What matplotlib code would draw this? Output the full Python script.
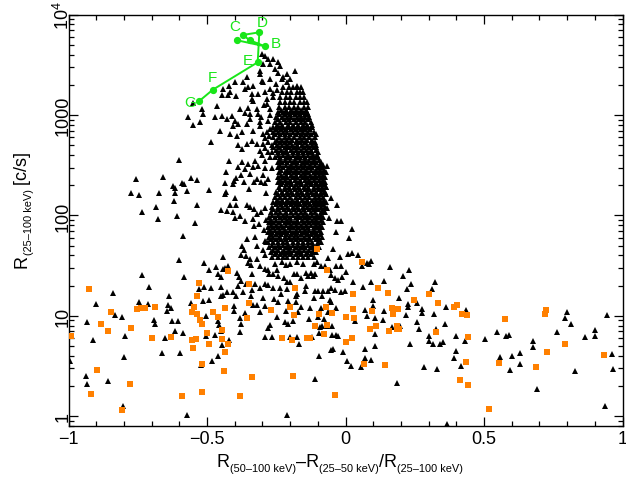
import matplotlib
matplotlib.use('Agg')
import matplotlib.pyplot as plt
from matplotlib.ticker import FixedLocator, MultipleLocator, LogLocator, NullFormatter

plt.rcParams['font.family'] = ['Liberation Sans', 'DejaVu Sans']
plt.rcParams['mathtext.fontset'] = 'custom'
plt.rcParams['mathtext.rm'] = 'Liberation Sans'
plt.rcParams['mathtext.it'] = 'Liberation Sans:italic'
plt.rcParams['mathtext.bf'] = 'Liberation Sans:bold'

# ---------------- data ----------------
# dense core of black triangles: one list of x per count level
core_y = [1905, 1698, 1514, 1349, 1204, 1073, 957, 853, 760, 678, 605, 539, 481, 429,
          383, 341, 304, 271, 242, 216, 192, 171, 153, 136, 122, 108, 96.6, 86.1, 76.8,
          68.5, 61.1, 54.5, 48.6, 43.3, 38.6]
core_x = [
    [-0.225, -0.205, -0.19, -0.175, -0.16],
    [-0.23, -0.21, -0.195, -0.175, -0.155],
    [-0.235, -0.215, -0.2, -0.18, -0.165, -0.15],
    [-0.235, -0.22, -0.2, -0.185, -0.165, -0.15, -0.14],
    [-0.24, -0.22, -0.205, -0.185, -0.17, -0.15, -0.135],
    [-0.245, -0.225, -0.21, -0.19, -0.17, -0.155, -0.14],
    [-0.25, -0.23, -0.21, -0.195, -0.175, -0.16, -0.145, -0.13],
    [-0.255, -0.235, -0.215, -0.2, -0.18, -0.16, -0.145, -0.125],
    [-0.26, -0.24, -0.225, -0.205, -0.185, -0.17, -0.15, -0.135, -0.12],
    [-0.26, -0.245, -0.225, -0.21, -0.19, -0.17, -0.155, -0.135, -0.115],
    [-0.26, -0.24, -0.22, -0.205, -0.185, -0.165, -0.15, -0.13, -0.11],
    [-0.255, -0.235, -0.22, -0.2, -0.18, -0.165, -0.145, -0.125, -0.11],
    [-0.26, -0.24, -0.22, -0.205, -0.185, -0.17, -0.15, -0.13, -0.115, -0.105],
    [-0.265, -0.245, -0.225, -0.21, -0.19, -0.17, -0.155, -0.135, -0.12, -0.1],
    [-0.255, -0.235, -0.215, -0.2, -0.18, -0.165, -0.145, -0.125, -0.11, -0.1],
    [-0.245, -0.23, -0.21, -0.19, -0.175, -0.155, -0.14, -0.12, -0.105, -0.09],
    [-0.245, -0.225, -0.205, -0.19, -0.17, -0.155, -0.135, -0.12, -0.1, -0.085],
    [-0.24, -0.22, -0.205, -0.185, -0.17, -0.15, -0.135, -0.115, -0.1, -0.085, -0.075],
    [-0.245, -0.225, -0.21, -0.19, -0.175, -0.155, -0.14, -0.12, -0.105, -0.09, -0.075],
    [-0.245, -0.23, -0.21, -0.195, -0.175, -0.16, -0.14, -0.125, -0.105, -0.09, -0.075],
    [-0.24, -0.22, -0.205, -0.185, -0.17, -0.15, -0.135, -0.115, -0.1, -0.085, -0.07],
    [-0.25, -0.23, -0.21, -0.195, -0.175, -0.16, -0.14, -0.125, -0.105, -0.09, -0.075],
    [-0.255, -0.235, -0.22, -0.2, -0.18, -0.165, -0.145, -0.13, -0.11, -0.095, -0.08],
    [-0.26, -0.24, -0.225, -0.205, -0.185, -0.17, -0.15, -0.135, -0.115, -0.1, -0.085, -0.07],
    [-0.265, -0.245, -0.23, -0.21, -0.19, -0.175, -0.155, -0.14, -0.12, -0.105, -0.09, -0.075],
    [-0.27, -0.25, -0.235, -0.215, -0.195, -0.18, -0.16, -0.145, -0.125, -0.11, -0.09, -0.075],
    [-0.275, -0.255, -0.235, -0.22, -0.2, -0.18, -0.165, -0.145, -0.13, -0.11, -0.095, -0.08],
    [-0.275, -0.26, -0.24, -0.22, -0.205, -0.185, -0.17, -0.15, -0.13, -0.115, -0.1, -0.08],
    [-0.28, -0.26, -0.245, -0.225, -0.205, -0.19, -0.17, -0.155, -0.135, -0.115, -0.1, -0.085],
    [-0.28, -0.265, -0.245, -0.225, -0.21, -0.19, -0.175, -0.155, -0.14, -0.12, -0.105, -0.09],
    [-0.275, -0.26, -0.24, -0.22, -0.205, -0.185, -0.17, -0.15, -0.13, -0.115, -0.1, -0.085],
    [-0.28, -0.26, -0.245, -0.225, -0.21, -0.19, -0.17, -0.155, -0.135, -0.12, -0.1, -0.09],
    [-0.275, -0.255, -0.235, -0.215, -0.2, -0.18, -0.16, -0.145, -0.125, -0.11, -0.095],
    [-0.27, -0.25, -0.23, -0.21, -0.195, -0.175, -0.16, -0.14, -0.12, -0.105],
    [-0.265, -0.245, -0.225, -0.21, -0.19, -0.17, -0.155, -0.135, -0.115],
]

# in-between levels of the dense core
core2_y = [1137, 1014, 904, 806, 719, 641, 571, 509, 454, 405, 361, 322, 287, 256, 228,
           204, 182, 162, 144, 129, 115, 102, 91.2, 81.3, 72.5, 64.7, 57.7, 51.4, 45.8, 40.9]
core2_x = [
    [-0.232, -0.213, -0.195, -0.178, -0.16, -0.143],
    [-0.24, -0.22, -0.2, -0.183, -0.165, -0.148, -0.136],
    [-0.243, -0.222, -0.203, -0.185, -0.168, -0.152, -0.137],
    [-0.248, -0.228, -0.208, -0.19, -0.173, -0.155, -0.138, -0.122],
    [-0.252, -0.233, -0.215, -0.198, -0.18, -0.162, -0.145, -0.127],
    [-0.253, -0.235, -0.217, -0.2, -0.18, -0.16, -0.142, -0.125, -0.108],
    [-0.248, -0.228, -0.21, -0.192, -0.175, -0.157, -0.138, -0.12],
    [-0.265, -0.248, -0.23, -0.21, -0.192, -0.175, -0.157, -0.14, -0.122, -0.108],
    [-0.25, -0.232, -0.213, -0.195, -0.177, -0.16, -0.142, -0.125, -0.108],
    [-0.245, -0.225, -0.207, -0.19, -0.172, -0.155, -0.137, -0.118, -0.104],
    [-0.237, -0.218, -0.2, -0.182, -0.165, -0.147, -0.13, -0.112, -0.097],
    [-0.235, -0.215, -0.197, -0.18, -0.162, -0.145, -0.127, -0.11, -0.093, -0.08],
    [-0.232, -0.212, -0.195, -0.177, -0.16, -0.142, -0.123, -0.107, -0.092, -0.078],
    [-0.233, -0.215, -0.197, -0.18, -0.162, -0.145, -0.128, -0.11, -0.097, -0.082],
    [-0.235, -0.217, -0.2, -0.182, -0.165, -0.147, -0.13, -0.113, -0.097, -0.082],
    [-0.232, -0.213, -0.195, -0.178, -0.16, -0.143, -0.125, -0.108, -0.092, -0.078],
    [-0.235, -0.218, -0.2, -0.183, -0.165, -0.148, -0.13, -0.112, -0.095, -0.08],
    [-0.243, -0.225, -0.207, -0.19, -0.172, -0.155, -0.137, -0.118, -0.102, -0.087, -0.072],
    [-0.247, -0.228, -0.21, -0.193, -0.175, -0.158, -0.14, -0.122, -0.107, -0.092, -0.077],
    [-0.252, -0.233, -0.215, -0.198, -0.18, -0.163, -0.145, -0.127, -0.11, -0.095, -0.08],
    [-0.26, -0.242, -0.222, -0.203, -0.185, -0.168, -0.15, -0.132, -0.115, -0.098, -0.082],
    [-0.265, -0.245, -0.227, -0.21, -0.19, -0.172, -0.155, -0.138, -0.12, -0.102, -0.087],
    [-0.268, -0.25, -0.23, -0.212, -0.195, -0.175, -0.158, -0.14, -0.122, -0.105, -0.09],
    [-0.268, -0.25, -0.232, -0.213, -0.195, -0.178, -0.16, -0.142, -0.125, -0.107, -0.092],
    [-0.272, -0.255, -0.235, -0.217, -0.2, -0.18, -0.163, -0.147, -0.13, -0.112, -0.097],
    [-0.27, -0.25, -0.232, -0.213, -0.195, -0.178, -0.16, -0.14, -0.123, -0.107, -0.092],
    [-0.268, -0.25, -0.232, -0.213, -0.197, -0.18, -0.162, -0.143, -0.127, -0.108, -0.095],
    [-0.265, -0.245, -0.227, -0.208, -0.19, -0.172, -0.153, -0.137, -0.118, -0.103],
    [-0.26, -0.242, -0.222, -0.203, -0.185, -0.168, -0.15, -0.13, -0.113],
    [-0.255, -0.235, -0.218, -0.2, -0.18, -0.162, -0.143, -0.125],
]

tri_upper = [(-0.303, 4070), (-0.291, 3910), (-0.279, 3630), (-0.263, 3630), (-0.273, 3230),
             (-0.297, 3230), (-0.243, 3360), (-0.236, 3100), (-0.309, 2780), (-0.255, 2880),
             (-0.182, 2720), (-0.212, 2570), (-0.309, 2570), (-0.357, 2380), (-0.225, 2380),
             (-0.230, 2290), (-0.200, 2290), (-0.273, 2290), (-0.303, 2210), (-0.212, 2130),
             (-0.297, 2130), (-0.369, 2130), (-0.399, 2130), (-0.251, 2040), (-0.176, 1970),
             (-0.333, 1970), (-0.419, 1970), (-0.351, 1900), (-0.363, 1820), (-0.441, 1820),
             (-0.273, 1820), (-0.164, 1700), (-0.291, 1700), (-0.417, 1700), (-0.316, 1625),
             (-0.339, 1625), (-0.447, 1570), (-0.423, 1570), (-0.395, 1540), (-0.262, 1650),
             (-0.248, 1780), (-0.245, 2600)]

tri_branch = [(-0.549, 1320), (-0.519, 1152), (-0.513, 1027), (-0.568, 952), (-0.525, 850),
              (-0.552, 798), (-0.487, 545), (-0.465, 1230), (-0.447, 985), (-0.471, 965),
              (-0.429, 915), (-0.411, 985), (-0.399, 880), (-0.387, 816), (-0.405, 780),
              (-0.381, 1152), (-0.363, 1060), (-0.351, 1190), (-0.333, 1390), (-0.321, 1152),
              (-0.315, 1027), (-0.345, 915), (-0.357, 816), (-0.333, 700), (-0.309, 780),
              (-0.297, 649), (-0.375, 680), (-0.417, 649), (-0.453, 700), (-0.393, 620),
              (-0.387, 500), (-0.375, 460), (-0.357, 516), (-0.339, 550), (-0.321, 516),
              (-0.309, 440), (-0.291, 475), (-0.279, 540), (-0.297, 516), (-0.345, 1027),
              (-0.339, 1450), (-0.285, 1450), (-0.261, 1510), (-0.273, 1152), (-0.309, 850),
              (-0.285, 680), (-0.266, 300), (-0.279, 231), (-0.285, 1300), (-0.272, 1000),
              (-0.28, 880), (-0.272, 720), (-0.29, 590), (-0.276, 620), (-0.28, 430),
              (-0.3, 400), (-0.272, 380), (-0.296, 1250), (-0.304, 960)]

tri_mid = [(-0.600, 360), (-0.757, 233), (-0.660, 240), (-0.622, 195), (-0.617, 189),
           (-0.590, 213), (-0.584, 206), (-0.557, 236), (-0.537, 227), (-0.774, 166),
           (-0.745, 159), (-0.673, 168), (-0.617, 167), (-0.573, 175), (-0.493, 179),
           (-0.619, 138), (-0.735, 109), (-0.683, 121), (-0.535, 126), (-0.678, 92.3),
           (-0.607, 99.6), (-0.544, 85), (-0.587, 62.8), (-0.602, 36.3), (-0.735, 25.8),
           (-0.583, 24.6), (-0.710, 19.5), (-0.838, 17.1), (-0.637, 15.9), (-0.512, 33.4),
           (-0.494, 28.7), (-0.466, 31), (-0.443, 38.9), (-0.442, 29.3), (-0.436, 30),
           (-0.423, 31.6), (-0.460, 26.1), (-0.448, 24.6), (-0.451, 19.5), (-0.487, 19.1),
           (-0.530, 18.5), (-0.441, 16.0), (-0.429, 17.2), (-0.393, 26.5), (-0.386, 24.2),
           (-0.376, 22.3), (-0.387, 20.0), (-0.369, 17.2), (-0.396, 15.9), (-0.342, 15.9),
           (-0.328, 20.7), (-0.310, 18.9), (-0.290, 20.7), (-0.336, 26.0), (-0.352, 33.4),
           (-0.342, 32.1), (-0.308, 31.6), (-0.292, 29.3), (-0.376, 40.0), (-0.360, 39.6),
           (-0.344, 37.2), (-0.374, 49.2), (-0.365, 45.5), (-0.321, 49.2), (-0.297, 45.5),
           (-0.286, 54.0), (-0.292, 40.0), (-0.355, 58.4), (-0.327, 61.6), (-0.330, 78.3),
           (-0.295, 71.9), (-0.292, 56.0), (-0.334, 92.3), (-0.313, 82.3), (-0.286, 90.3),
           (-0.364, 88.9), (-0.400, 94), (-0.380, 99.1), (-0.448, 114), (-0.429, 110),
           (-0.406, 109), (-0.416, 126), (-0.396, 126), (-0.356, 126), (-0.345, 121),
           (-0.331, 116), (-0.321, 103.5), (-0.304, 108), (-0.292, 118), (-0.430, 173),
           (-0.436, 163), (-0.398, 148), (-0.366, 217), (-0.347, 184), (-0.329, 217),
           (-0.318, 231), (-0.306, 217), (-0.290, 209), (-0.286, 166), (-0.435, 209),
           (-0.405, 204), (-0.404, 223), (-0.394, 236), (-0.376, 256), (-0.362, 288),
           (-0.346, 262), (-0.333, 303), (-0.316, 311), (-0.290, 296), (-0.298, 256),
           (-0.430, 270), (-0.421, 350), (-0.388, 307), (-0.374, 339), (-0.352, 326),
           (-0.328, 350), (-0.292, 350)]

tri_low = [(-0.321, 36.9), (-0.281, 28.5), (-0.277, 26.0), (-0.263, 26.0), (-0.256, 33.0),
           (-0.246, 28.5), (-0.230, 34.2), (-0.214, 32.1), (-0.199, 32.6), (-0.176, 34.2),
           (-0.153, 32.6), (-0.144, 26.6), (-0.126, 26.6), (-0.115, 32.6), (-0.104, 34.2),
           (-0.087, 31.2), (-0.073, 31.6), (-0.055, 28.5), (-0.051, 25.6), (-0.033, 31.2),
           (-0.015, 31.2), (0.003, 27.2), (-0.245, 24.8), (-0.223, 23.7), (-0.212, 21.9),
           (-0.201, 21.6), (-0.187, 26.0), (-0.176, 26.0), (-0.160, 23.7), (-0.135, 24.8),
           (-0.117, 24.8), (-0.111, 26.0), (-0.037, 23.7), (-0.026, 22.9), (-0.012, 24.4),
           (-0.510, 19.3), (-0.405, 17.2), (-0.360, 21.0), (-0.339, 18.0), (-0.280, 20.3),
           (-0.263, 18.8), (-0.235, 18.8), (-0.211, 18.4), (-0.174, 16.7), (-0.147, 17.5),
           (-0.142, 20.0), (-0.111, 17.8), (-0.100, 17.8), (-0.082, 17.8), (-0.064, 17.8),
           (-0.053, 18.9), (-0.037, 18.0), (-0.015, 17.2), (-0.001, 17.7), (-0.179, 15.9),
           (-0.232, 16.7), (-0.297, 15.2), (-0.259, 14.7), (-0.243, 13.9), (-0.208, 14.2),
           (-0.179, 13.7), (-0.113, 15.2), (-0.057, 14.3), (-0.052, 13.7), (-0.085, 15.9),
           (-0.900, 13.1), (-0.747, 13.7), (-0.714, 13.1), (-0.641, 12.8), (-0.631, 11.9),
           (-0.557, 13.3), (-0.513, 14.1), (-0.492, 14.5), (-0.448, 15.9), (-0.403, 12.6),
           (-0.401, 11.1), (-0.364, 10.7), (-0.333, 12.9), (-0.318, 12.9), (-0.290, 12.6),
           (-0.246, 9.7), (-0.208, 8.4), (-0.188, 8.8), (-0.171, 10.9), (-0.133, 9.3),
           (-0.129, 11.9), (-0.078, 9.3), (-0.033, 11.9), (-0.643, 11.1), (-0.690, 9.2),
           (-0.688, 8.4), (-0.807, 9.8), (-0.833, 10.2), (-0.933, 8.6), (-0.627, 8.9),
           (-0.604, 8.9), (-0.503, 9.9), (-0.459, 8.8), (-0.457, 8.2), (-0.380, 9.5),
           (-0.378, 8.4), (-0.279, 7.5), (-0.271, 8.1), (-0.218, 8.6), (-0.098, 9.8),
           (-0.092, 7.7), (-0.084, 7.9), (-0.067, 8.0), (-0.049, 8.0), (-0.160, 12.4),
           (-0.216, 11.3), (-0.310, 10.9), (-0.063, 10.9), (-0.087, 12.1),
           (-0.616, 7.0), (-0.588, 6.7), (-0.503, 6.3), (-0.472, 6.5), (-0.449, 7.0),
           (-0.380, 6.9), (-0.420, 5.75), (-0.446, 5.1), (-0.291, 6.2), (-0.265, 6.2),
           (-0.199, 6.1), (-0.174, 6.1), (-0.167, 5.2), (-0.120, 6.2), (-0.095, 6.7),
           (-0.048, 6.45), (-0.035, 6.4), (-0.027, 6.3), (-0.795, 6.3), (-0.652, 6.0),
           (-0.913, 5.7), (-0.664, 4.27), (-0.599, 4.24), (-0.459, 4.0), (-0.481, 3.53),
           (-0.522, 3.22), (-0.800, 3.92), (-0.097, 3.96), (-0.051, 4.54), (-0.044, 4.65),
           (-0.009, 4.39), (0.006, 3.58), (-0.996, 3.53), (-0.936, 2.5), (-0.932, 2.08),
           (-0.857, 2.25), (-0.111, 2.37), (-0.802, 1.26), (-0.572, 1.03), (-0.212, 1.03)]

tri_right = [(-0.032, 127), (-0.017, 88), (-0.032, 88), (-0.034, 69), (-0.061, 95),
             (-0.080, 112), (-0.066, 118), (-0.052, 151), (-0.078, 170), (-0.070, 191),
             (-0.070, 269), (-0.068, 311), (-0.044, 46.4), (-0.020, 39), (-0.062, 37.6),
             (0.022, 73.4), (0.014, 60), (0.010, 41), (0.025, 42.4), (0.046, 40.4),
             (0.061, 31.5), (0.079, 33.6), (0.085, 33), (0.093, 35), (0.161, 30.8),
             (0.230, 28.5), (0.208, 24.8), (0.223, 18.5), (0.238, 20.8), (0.313, 18.5),
             (0.324, 21.6), (0.138, 22.1), (0.091, 21.8), (0.063, 19.5), (0.028, 21.6),
             (0.100, 14.3), (0.098, 12.6), (0.071, 11.4), (0.079, 9.9), (0.106, 9.5),
             (0.139, 11.2), (0.136, 9.2), (0.192, 15), (0.226, 13.0), (0.227, 12.3),
             (0.259, 13.4), (0.277, 11.7), (0.276, 10.8), (0.219, 10.2), (0.257, 8.6),
             (0.265, 7.35), (0.319, 10.4), (0.358, 8.25), (0.362, 12.3), (0.436, 11.4),
             (0.326, 7.4), (0.300, 6.3), (0.301, 5.6), (0.315, 5.25), (0.341, 5.3),
             (0.351, 5.5), (0.198, 8.0), (0.168, 7.7), (0.106, 6.65), (0.108, 4.98),
             (0.071, 4.65), (0.071, 3.83), (0.092, 3.66), (0.020, 3.19), (0.055, 3.07),
             (0.234, 5.25), (0.399, 6.25), (0.430, 5.6), (0.398, 4.47), (0.392, 3.78),
             (0.418, 3.15), (0.284, 3.12), (0.331, 2.96), (0.187, 2.15), (0.503, 5.9),
             (0.546, 6.85), (0.581, 6.25), (0.590, 6.4), (0.559, 3.92), (0.601, 4.0),
             (0.629, 4.3), (0.594, 2.91), (0.630, 3.32), (0.676, 5.6), (0.678, 4.9),
             (0.691, 1.87), (0.765, 6.95), (0.801, 11.0), (0.794, 9.45), (0.815, 8.3),
             (0.829, 2.84), (0.864, 6.2), (0.900, 7.3), (0.902, 6.25), (0.943, 10.3),
             (0.962, 4.14), (0.965, 2.94), (0.937, 1.27), (0.366, 0.83), (0.034, 8.95)]

sq_left = [(-0.424, 27.8), (-0.925, 18.4), (-0.530, 21.1), (-0.535, 15.7), (-0.348, 20.6),
           (-0.066, 28.5), (-0.182, 18.8), (-0.845, 10.9), (-0.752, 11.6), (-0.737, 11.9),
           (-0.723, 11.9), (-0.687, 12.2), (-0.546, 12.2), (-0.553, 10.9), (-0.535, 10.4),
           (-0.477, 10.9), (-0.434, 11.9), (-0.347, 13.3), (-0.268, 11.4), (-0.199, 12.2),
           (-0.185, 10.1), (-0.095, 10.4), (-0.070, 12.2), (-0.049, 10.6), (0.0, 9.7),
           (-0.882, 8.25), (-0.857, 7.0), (-0.773, 7.5), (-0.992, 6.35), (-0.697, 5.98),
           (-0.629, 6.1), (-0.524, 9.0), (-0.517, 8.4), (-0.459, 9.7), (-0.499, 6.7),
           (-0.445, 7.2), (-0.554, 5.7), (-0.539, 5.85), (-0.492, 5.3), (-0.445, 5.85),
           (-0.423, 5.2), (-0.549, 4.75), (-0.434, 4.34), (-0.355, 9.5), (-0.228, 5.98),
           (-0.192, 5.7), (-0.138, 5.98), (-0.127, 5.98), (-0.110, 7.9), (-0.066, 8.06),
           (-0.077, 6.56), (0.0, 5.46), (-0.517, 3.3), (-0.896, 2.87), (-0.438, 2.81),
           (-0.336, 2.45), (-0.188, 2.5), (-0.777, 2.08), (-0.918, 1.66), (-0.589, 1.58),
           (-0.380, 1.58), (-0.038, 1.62), (-0.806, 1.15), (-0.517, 1.73), (-0.102, 46.4)]

sq_right = [(0.061, 34.2), (0.118, 18.8), (0.155, 16.8), (0.028, 16.4), (0.303, 16.4),
            (0.248, 14.3), (0.333, 13.3), (0.028, 11.6), (0.095, 11.1), (0.032, 9.5),
            (0.169, 11.9), (0.191, 11.6), (0.173, 10.4), (0.393, 12.2), (0.404, 12.8),
            (0.422, 10.4), (0.440, 10.1), (0.111, 7.9), (0.090, 7.35), (0.158, 7.0),
            (0.187, 7.9), (0.187, 7.35), (0.194, 7.35), (0.328, 6.87), (0.025, 5.98),
            (0.443, 6.1), (0.577, 9.25), (0.725, 11.4), (0.721, 10.4), (0.794, 5.3),
            (0.729, 4.34), (0.934, 4.05), (0.068, 3.3), (0.144, 3.22), (0.436, 3.45),
            (0.555, 3.37), (0.689, 3.08), (0.414, 2.28), (0.443, 2.04), (0.519, 1.18)]

# green track (burst evolution)
path_x = [-0.391, -0.291, -0.345, -0.371, -0.311, -0.317, -0.479, -0.528]
path_y = [5560, 4845, 5560, 6280, 6680, 3357, 1790, 1381]
path_labels = ['', 'B', '', 'C', 'D', 'E', 'F', 'G']

xticks = [-1, -0.5, 0, 0.5, 1]
xtick_labels = ['\u22121', '\u22120.5', '0', '0.5', '1']
yticks = [1, 10, 100, 1000, 10000]
ytick_labels = ['1', '10', '100', '1000', r'$\mathregular{10^4}$']

# ---------------- figure ----------------
W, H = 626, 481
fig = plt.figure(figsize=(W / 100, H / 100), dpi=100)
ax = fig.add_axes([68.5 / W, 1 - 427.3 / H, 554.0 / W, 411.6 / H])
ax.set_yscale('log')
ax.set_xlim(-1, 1)
ax.set_ylim(0.795, 1e4)

tri_kw = dict(linestyle='none', marker='^', color='black', markersize=3.7,
              markeredgewidth=0.0, zorder=2)
for yv, xs in zip(core_y + core2_y, core_x + core2_x):
    ax.plot(xs, [yv] * len(xs), **tri_kw)
for group in (tri_upper, tri_branch, tri_mid, tri_low, tri_right):
    ax.plot([p[0] for p in group], [p[1] for p in group], **tri_kw)

sq_kw = dict(linestyle='none', marker='s', color='#ff8000', markersize=4.0,
             markeredgewidth=0.0, zorder=3)
for group in (sq_left, sq_right):
    ax.plot([p[0] for p in group], [p[1] for p in group], **sq_kw)

green = '#19e619'
ax.plot(path_x, path_y, '-o', color=green, lw=1.4, markersize=4.2, zorder=5)
offsets = {'B': (7.7, 2.2), 'C': (-5.5, 6.3), 'D': (2.2, 7.6), 'E': (-6.8, 1.9),
           'F': (-0.5, 9.4), 'G': (-6.7, -0.9)}
for px_, py_, lab in zip(path_x, path_y, path_labels):
    if lab:
        ax.annotate(lab, (px_, py_), xytext=offsets[lab], textcoords='offset points',
                    ha='center', va='center', color=green, fontsize=11, zorder=6)

# ticks
ax.xaxis.set_major_locator(FixedLocator(xticks))
ax.set_xticklabels(xtick_labels)
ax.xaxis.set_minor_locator(MultipleLocator(0.1))
ax.yaxis.set_major_locator(FixedLocator(yticks))
ax.set_yticklabels(ytick_labels)
ax.yaxis.set_minor_locator(LogLocator(base=10, subs=range(2, 10), numticks=20))
ax.yaxis.set_minor_formatter(NullFormatter())
ax.tick_params(which='both', direction='in', top=True, right=True, width=0.9,
               labelsize=13)
ax.tick_params(which='major', length=6.3)
ax.tick_params(which='minor', length=3.5)
ax.tick_params(axis='x', pad=3)
ax.tick_params(axis='y', pad=4)
for lab in ax.get_yticklabels():
    lab.set_rotation(90)
    lab.set_va('center')
    lab.set_ha('center')
for sp in ax.spines.values():
    sp.set_linewidth(1.0)

# axis labels made of pieces (subscripts smaller)
renderer = fig.canvas.get_renderer()


def compose(pieces, x0, y0, rotation):
    widths = []
    for s, size, sh in pieces:
        t = fig.text(0, 0, s, fontsize=size)
        widths.append(t.get_window_extent(renderer).width)
        t.remove()
    pos = -sum(widths) / 2
    for (s, size, sh), w in zip(pieces, widths):
        if rotation == 0:
            px_, py_ = x0 + pos, y0 - sh
        else:
            px_, py_ = x0 + sh, y0 + pos
        fig.text(px_ / W, py_ / H, s, fontsize=size, rotation=rotation,
                 rotation_mode='anchor', ha='left', va='baseline')
        pos += w


sub = 7.9
compose([('R', 13, 0), ('(50\u2013100 keV)', sub, 5), ('\u2013R', 13, 0),
         ('(25\u201350 keV)', sub, 5), ('/R', 13, 0), ('(25\u2013100 keV)', sub, 5)],
        340, H - 467, 0)
compose([('R', 13, 0), ('(25\u2013100 keV)', sub, 5), (' [c/s]', 13, 0)],
        27, H - 210, 90)

fig.savefig('out.png', dpi=100)
